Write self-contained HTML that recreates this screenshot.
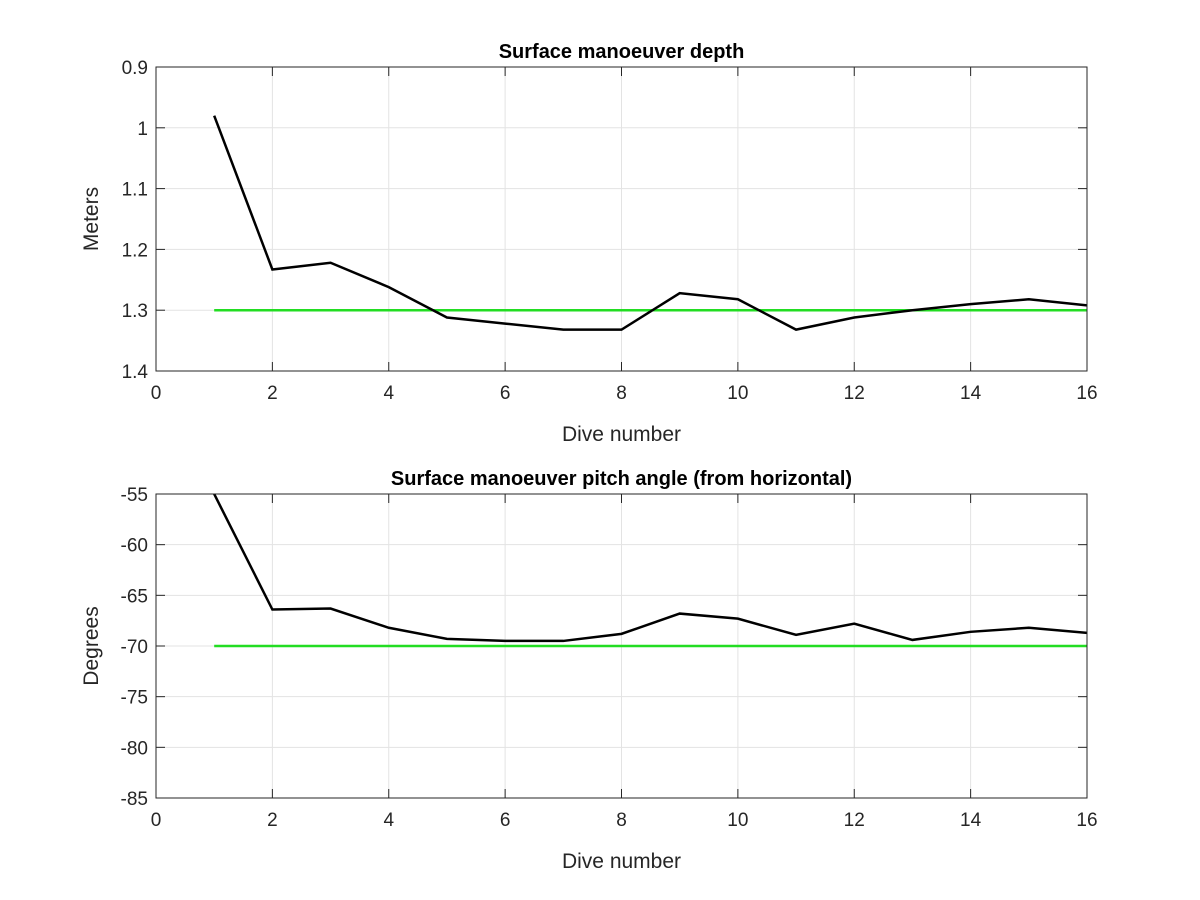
<!DOCTYPE html>
<html><head><meta charset="utf-8"><style>
body{margin:0;background:#fff;}
svg{display:block;font-family:"Liberation Sans",sans-serif;}
</style></head><body>
<svg id="chart" width="1200" height="900"></svg>
<script>
const dives = [1,2,3,4,5,6,7,8,9,10,11,12,13,14,15,16];
const depthValues = [0.98,1.233,1.222,1.262,1.312,1.322,1.332,1.332,1.272,1.282,1.332,1.312,1.30,1.29,1.282,1.292];
const depthTarget = 1.3;
const pitchValues = [-55,-66.4,-66.3,-68.2,-69.3,-69.5,-69.5,-68.8,-66.8,-67.3,-68.9,-67.8,-69.4,-68.6,-68.2,-68.7];
const pitchTarget = -70;
const xTicks = [0,2,4,6,8,10,12,14,16];
const depthTicks = [0.9,1,1.1,1.2,1.3,1.4];
const pitchTicks = [-55,-60,-65,-70,-75,-80,-85];

const NS="http://www.w3.org/2000/svg";
const svg=document.getElementById('chart');
function mk(tag,attrs,parent){const e=document.createElementNS(NS,tag);for(const k in attrs)e.setAttribute(k,attrs[k]);(parent||svg).appendChild(e);return e;}

function panel(cfg){
  const L=156,R=1087,T=cfg.top,B=cfg.top+304;
  const g=mk('g',{});
  
  
  const xs=v=>L+(v-0)/(16-0)*(R-L);
  const ys=v=>T+(v-cfg.yTop)/(cfg.yBot-cfg.yTop)*(B-T);
  mk('rect',{x:L,y:T,width:R-L,height:B-T,fill:'#fff'},g);
  xTicks.forEach(t=>{
    const gl=mk('line',{x1:xs(t),x2:xs(t),y1:T,y2:B,stroke:'#e3e3e3','stroke-width':1},g);
    
    mk('line',{x1:xs(t),x2:xs(t),y1:B,y2:B-9,stroke:'#262626'},g);
    mk('line',{x1:xs(t),x2:xs(t),y1:T,y2:T+9,stroke:'#262626'},g);
    const tx=mk('text',{x:xs(t),y:B+28,'text-anchor':'middle','font-size':19,fill:'#262626'},g);
    tx.textContent=t;
  });
  cfg.ticks.forEach(t=>{
    const gl=mk('line',{x1:L,x2:R,y1:ys(t),y2:ys(t),stroke:'#e3e3e3','stroke-width':1},g);
    
    mk('line',{x1:L,x2:L+9,y1:ys(t),y2:ys(t),stroke:'#262626'},g);
    mk('line',{x1:R,x2:R-9,y1:ys(t),y2:ys(t),stroke:'#262626'},g);
    const tx=mk('text',{x:L-8,y:ys(t)+7,'text-anchor':'end','font-size':19,fill:'#262626'},g);
    tx.textContent=t;
  });
  const tl=mk('line',{x1:xs(dives[0]),x2:xs(dives[dives.length-1]),y1:ys(cfg.target),y2:ys(cfg.target),stroke:'#22dd22','stroke-width':2.5},g);
  
  const clip=mk('clipPath',{id:'c'+cfg.top},g);
  mk('rect',{x:L,y:T,width:R-L,height:B-T},clip);
  const pl=mk('polyline',{points:dives.map((d,i)=>xs(d)+','+ys(cfg.values[i])).join(' '),fill:'none',stroke:'#000','stroke-width':2.5,'clip-path':'url(#c'+cfg.top+')'},g);
  
  mk('rect',{x:L,y:T,width:R-L,height:B-T,fill:'none',stroke:'#262626','stroke-width':1},g);
  const ti=mk('text',{x:(L+R)/2,y:T-9,'text-anchor':'middle','font-size':20,'font-weight':'bold',fill:'#000'},g);
  ti.textContent=cfg.title;
  const xl=mk('text',{x:(L+R)/2,y:B+70,'text-anchor':'middle','font-size':21,fill:'#262626'},g);
  xl.textContent='Dive number';
  const yl=mk('text',{x:0,y:0,'text-anchor':'middle','font-size':21,fill:'#262626',transform:`translate(98,${(T+B)/2}) rotate(-90)`},g);
  yl.textContent=cfg.ylabel;
}
panel({name:'depth-panel',top:67,yTop:0.9,yBot:1.4,ticks:depthTicks,values:depthValues,target:depthTarget,title:'Surface manoeuver depth',ylabel:'Meters'});
panel({name:'pitch-panel',top:494,yTop:-55,yBot:-85,ticks:pitchTicks,values:pitchValues,target:pitchTarget,title:'Surface manoeuver pitch angle (from horizontal)',ylabel:'Degrees'});
</script>
</body></html>
